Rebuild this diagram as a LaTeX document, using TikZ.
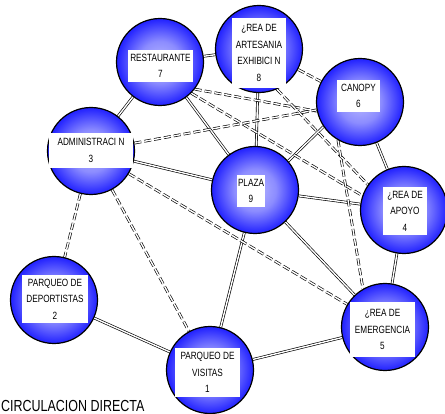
\documentclass[tikz,border=0pt]{standalone}
\usepackage{fontspec}
\newfontfamily\lbl{Liberation Sans}[FakeStretch=0.78]
\usetikzlibrary{backgrounds}
\pgfdeclareradialshading{ballshade}{\pgfpoint{0bp}{0bp}}{color(0bp)=(blue!28); color(12bp)=(blue!45); color(28bp)=(blue!97); color(50bp)=(blue)}
\tikzset{
  ball/.style={circle, draw=black, line width=1.2pt, minimum size=87pt, inner sep=0pt, shading=ballshade},
  lab/.style={fill=white, inner sep=0pt, align=center, text=black, font=\lbl\fontsize{10.5}{16.5}\selectfont},
  solidlink/.style={draw=black, line width=0.65pt, double=white, double distance=1.4pt},
  dashlink/.style={solidlink, dash pattern=on 7pt off 3pt},
}
\begin{document}
\begin{tikzpicture}[x=1pt,y=-1pt]
\useasboundingbox (0,0) rectangle (445,414);
% circles
\node[ball] (n7) at (160,62) {};
\node[ball] (n8) at (259,49) {};
\node[ball] (n6) at (360,102) {};
\node[ball] (n3) at (91,151) {};
\node[ball] (n9) at (255,190) {};
\node[ball] (n4) at (404,210) {};
\node[ball] (n5) at (385,327) {};
\node[ball] (n1) at (210,370) {};
\node[ball] (n2) at (54,300) {};
% labels
\node[lab, minimum width=65pt, minimum height=32pt] (l7) at (160.5,66) {RESTAURANTE\\7};
\node[lab, minimum width=54pt, minimum height=70pt] (l8) at (259,53) {¿REA DE\\ARTESANIA\\EXHIBICI N\\8};
\node[lab, minimum width=43pt, minimum height=32pt] (l6) at (358.5,96) {CANOPY\\6};
\node[lab, minimum width=84pt, minimum height=35pt] (l3) at (91,150.5) {ADMINISTRACI N\\3};
\node[lab, minimum width=28pt, minimum height=32pt] (l9) at (251,191) {PLAZA\\9};
\node[lab, minimum width=44pt, minimum height=48pt] (l4) at (405,211) {¿REA DE\\APOYO\\4};
\node[lab, minimum width=65pt, minimum height=55pt] (l5) at (382.5,329.5) {¿REA DE\\EMERGENCIA\\5};
\node[lab, minimum width=65pt, minimum height=49pt] (l1) at (207.5,372.5) {PARQUEO DE\\VISITAS\\1};
\node[lab, minimum width=66pt, minimum height=48pt] (l2) at (55,299) {PARQUEO DE\\DEPORTISTAS\\2};
% legend
\node[anchor=base west, inner sep=0pt, font=\lbl\fontsize{16}{18}\selectfont] (leg) at (1,411) {CIRCULACION DIRECTA};
% connectors
\begin{scope}[on background layer]
\fill[white] (0,0) rectangle (445,414);
\draw[solidlink] (n7) -- (n8);
\draw[solidlink] (n7) -- (n3);
\draw[solidlink] (n7) -- (n9);
\draw[solidlink] (n8) -- (n9);
\draw[solidlink] (n3) -- (n9);
\draw[solidlink] (n6.214) -- (n9.41);
\draw[solidlink] (n6) -- (n4);
\draw[solidlink] (n9) -- (n4);
\draw[solidlink] (n9) -- (n1);
\draw[solidlink] (n9) -- (n5);
\draw[solidlink] (n4) -- (n5);
\draw[solidlink] (n1) -- (n5);
\draw[solidlink] (n2) -- (n1);
\draw[dashlink] (n7.-38) -- (n6.192);
\draw[dashlink] (n7.-45) -- (n4.161);
\draw[dashlink] (n8) -- (n6);
\draw[dashlink] (n8.-66) -- (n4.145);
\draw[dashlink] (n6.-120) -- (n5.120);
\draw[dashlink] (n3) -- (n6);
\draw[dashlink] (n3) -- (n5);
\draw[dashlink] (n3) -- (n2);
\draw[dashlink] (n3) -- (n1);
\end{scope}
\end{tikzpicture}
\end{document}
